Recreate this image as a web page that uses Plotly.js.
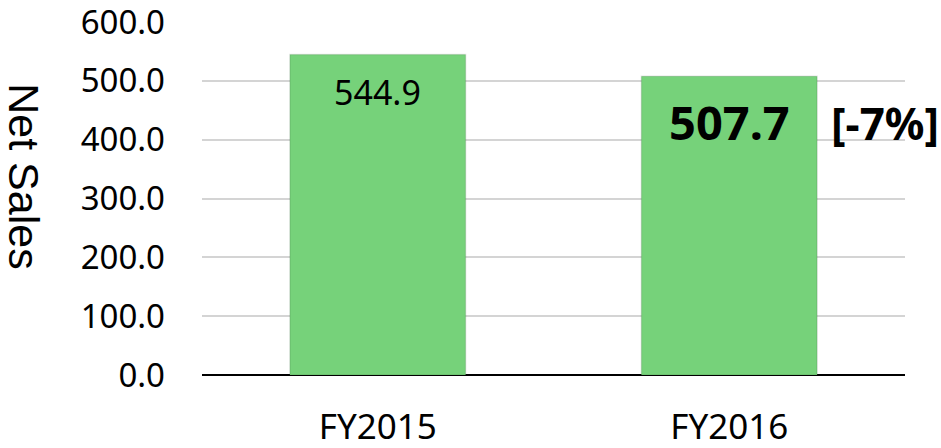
<!DOCTYPE html>
<html>
<head>
<meta charset="utf-8">
<script src="https://cdn.plot.ly/plotly-3.0.1.min.js"></script>
<style>html,body{margin:0;padding:0;background:#fff;}#chart{width:941px;height:448px;}</style>
</head>
<body>
<div id="chart"></div>
<script>
const categories = ['FY2015', 'FY2016'];
const netSales = [544.9, 507.7];
const yTicks = [0, 100, 200, 300, 400, 500, 600];
const yTickLabels = ['0.0', '100.0', '200.0', '300.0', '400.0', '500.0', '600.0'];
const axisTitle = 'Net Sales';

const FONT = 'Noto Sans, DejaVu Sans, sans-serif';
const change = Math.round((netSales[1] / netSales[0] - 1) * 100);

const trace = {
  type: 'bar',
  x: categories,
  y: netSales,
  width: 0.5,
  marker: { color: '#76D27A', line: { color: 'rgba(0,0,0,0.10)', width: 1.5 } },
  hoverinfo: 'none'
};

const annotations = [
  {
    x: categories[0], y: netSales[0], xref: 'x', yref: 'y',
    text: netSales[0].toFixed(1), showarrow: false,
    yanchor: 'middle', yshift: -38,
    font: { family: FONT, size: 34, color: '#000' }
  },
  {
    x: categories[1], y: netSales[1], xref: 'x', yref: 'y',
    text: '<b>' + netSales[1].toFixed(1) + '</b>', showarrow: false,
    yanchor: 'middle', yshift: -46,
    font: { family: FONT, size: 47, color: '#000' }
  },
  {
    x: categories[1], y: netSales[1], xref: 'x', yref: 'y',
    text: '<b>[' + change + '%]</b>', showarrow: false,
    xanchor: 'left', yanchor: 'middle', xshift: 100, yshift: -47,
    font: { family: FONT, size: 44, color: '#000' }
  },
  {
    x: 0, y: 0.563, xref: 'paper', yref: 'paper',
    text: axisTitle, showarrow: false, textangle: 90,
    xanchor: 'center', yanchor: 'middle', xshift: -178,
    font: { family: 'Liberation Sans, Arial, sans-serif', size: 43, color: '#000' }
  }
];

const layout = {
  width: 941, height: 448,
  margin: { l: 202, r: 36, t: 22, b: 73 },
  paper_bgcolor: '#fff', plot_bgcolor: '#fff',
  showlegend: false,
  xaxis: {
    type: 'category', range: [-0.5, 1.5],
    showgrid: false, zeroline: false, showline: false, ticks: '',
    tickfont: { family: FONT, size: 35, color: '#000' },
    ticklabelstandoff: 28
  },
  yaxis: {
    range: [0, 600], tickvals: yTicks, ticktext: yTickLabels,
    showgrid: true, gridcolor: '#D4D4D4', gridwidth: 2,
    zeroline: true, zerolinecolor: '#000', zerolinewidth: 2,
    showline: false, ticks: '',
    tickfont: { family: FONT, size: 33, color: '#000' },
    ticklabelstandoff: 36,
    ticklabeloverflow: 'allow'
  },
  annotations: annotations
};

Plotly.newPlot('chart', [trace], layout, { displayModeBar: false, staticPlot: true });
</script>
</body>
</html>
